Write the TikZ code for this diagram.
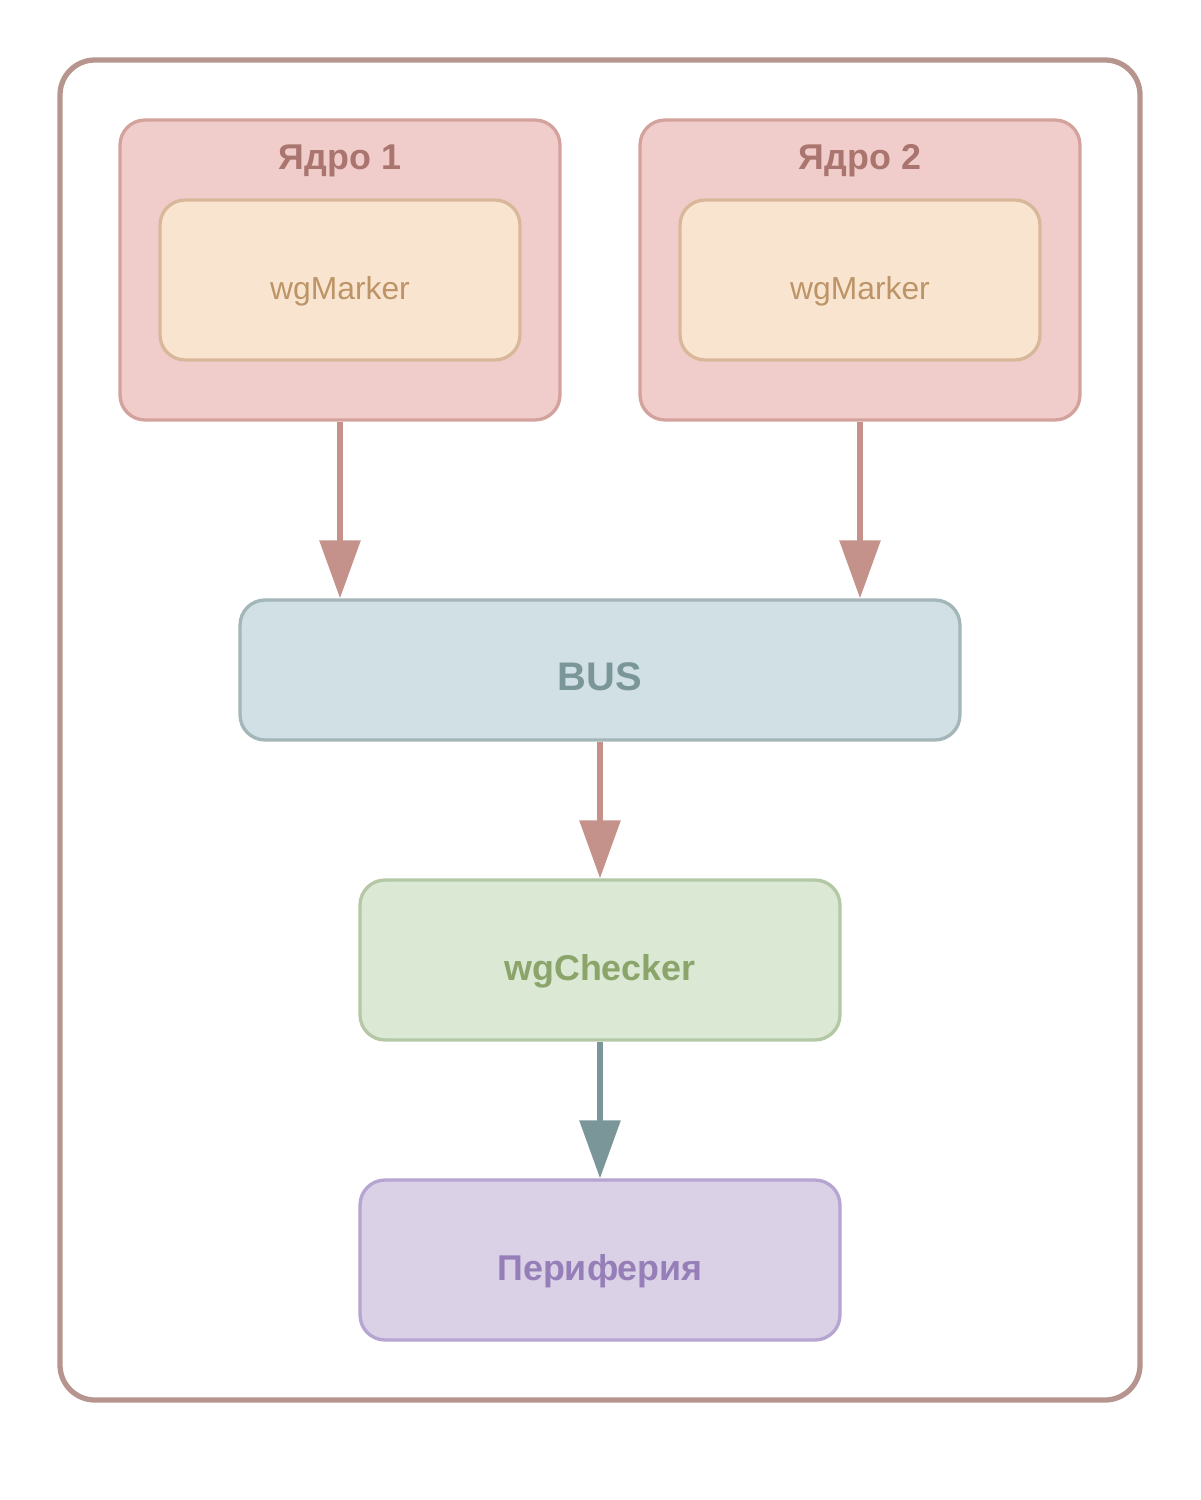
\documentclass[tikz,border=0pt]{standalone}
\usepackage{fontspec}
\setmainfont{Liberation Sans}
\usepackage{tikz}
\usetikzlibrary{arrows.meta}

\definecolor{outerline}{HTML}{B5958D}
\definecolor{corefill}{HTML}{F0CDCB}
\definecolor{coreline}{HTML}{D4A29C}
\definecolor{coretext}{HTML}{A9756E}
\definecolor{markfill}{HTML}{F9E5CF}
\definecolor{markline}{HTML}{D9B79A}
\definecolor{marktext}{HTML}{BD9468}
\definecolor{busfill}{HTML}{D1E0E4}
\definecolor{busline}{HTML}{A3B6B8}
\definecolor{bustext}{HTML}{7A9698}
\definecolor{checkfill}{HTML}{DAE8D4}
\definecolor{checkline}{HTML}{B4C8A6}
\definecolor{checktext}{HTML}{8AA46A}
\definecolor{perifill}{HTML}{DAD1E7}
\definecolor{periline}{HTML}{B6A5D0}
\definecolor{peritext}{HTML}{967FB8}
\definecolor{arrowred}{HTML}{C4928A}

\newcommand{\lowtext}[1]{\raisebox{-0.4cm}[0pt][0pt]{#1}}

\tikzset{
	box/.style={rounded corners=0.5cm,line width=1.9pt,inner sep=0pt},
	corebox/.style={box,draw=coreline,fill=corefill,minimum width=8.8cm,minimum height=6cm},
	coretitle/.style={anchor=base,text=coretext,font=\bfseries\fontsize{20.4}{24}\selectfont},
	markbox/.style={box,draw=markline,fill=markfill,text=marktext,minimum width=7.2cm,minimum height=3.2cm,
		font=\fontsize{18.1}{22}\selectfont},
	flow/.style={line width=3.4pt,-{Triangle[width=0.8cm,length=1.16cm]}},
}

\begin{document}
\begin{tikzpicture}[x=0.02cm,y=-0.02cm]
	\useasboundingbox (0,0) rectangle (1200,1500);
	\draw[outerline,line width=3pt,rounded corners=0.7cm] (60,60) rectangle (1140,1400);
	%
	\node[corebox] (core1) at (340,270) {};
	\node[corebox] (core2) at (860,270) {};
	\node[coretitle] (title1) at (340,170) {Ядро 1};
	\node[coretitle] (title2) at (860,170) {Ядро 2};
	\node[markbox] (mark1) at (340,280) {\lowtext{wgMarker}};
	\node[markbox] (mark2) at (860,280) {\lowtext{wgMarker}};
	%
	\node[box,draw=busline,fill=busfill,text=bustext,minimum width=14.4cm,minimum height=2.8cm,
		font=\bfseries\fontsize{22.7}{27}\selectfont] (bus) at (600,670) {\lowtext{BUS}};
	\node[box,draw=checkline,fill=checkfill,text=checktext,minimum width=9.6cm,minimum height=3.2cm,
		font=\bfseries\fontsize{20.4}{24}\selectfont] (check) at (600,960) {\lowtext{wgChecker}};
	\node[box,draw=periline,fill=perifill,text=peritext,minimum width=9.6cm,minimum height=3.2cm,
		font=\bfseries\fontsize{20.4}{24}\selectfont] (peri) at (600,1260) {\lowtext{Периферия}};
	%
	\draw[flow,arrowred] (core1.south) -- (core1.south |- bus.north);
	\draw[flow,arrowred] (core2.south) -- (core2.south |- bus.north);
	\draw[flow,arrowred] (bus.south) -- (check.north);
	\draw[flow,bustext] (check.south) -- (peri.north);
\end{tikzpicture}
\end{document}
